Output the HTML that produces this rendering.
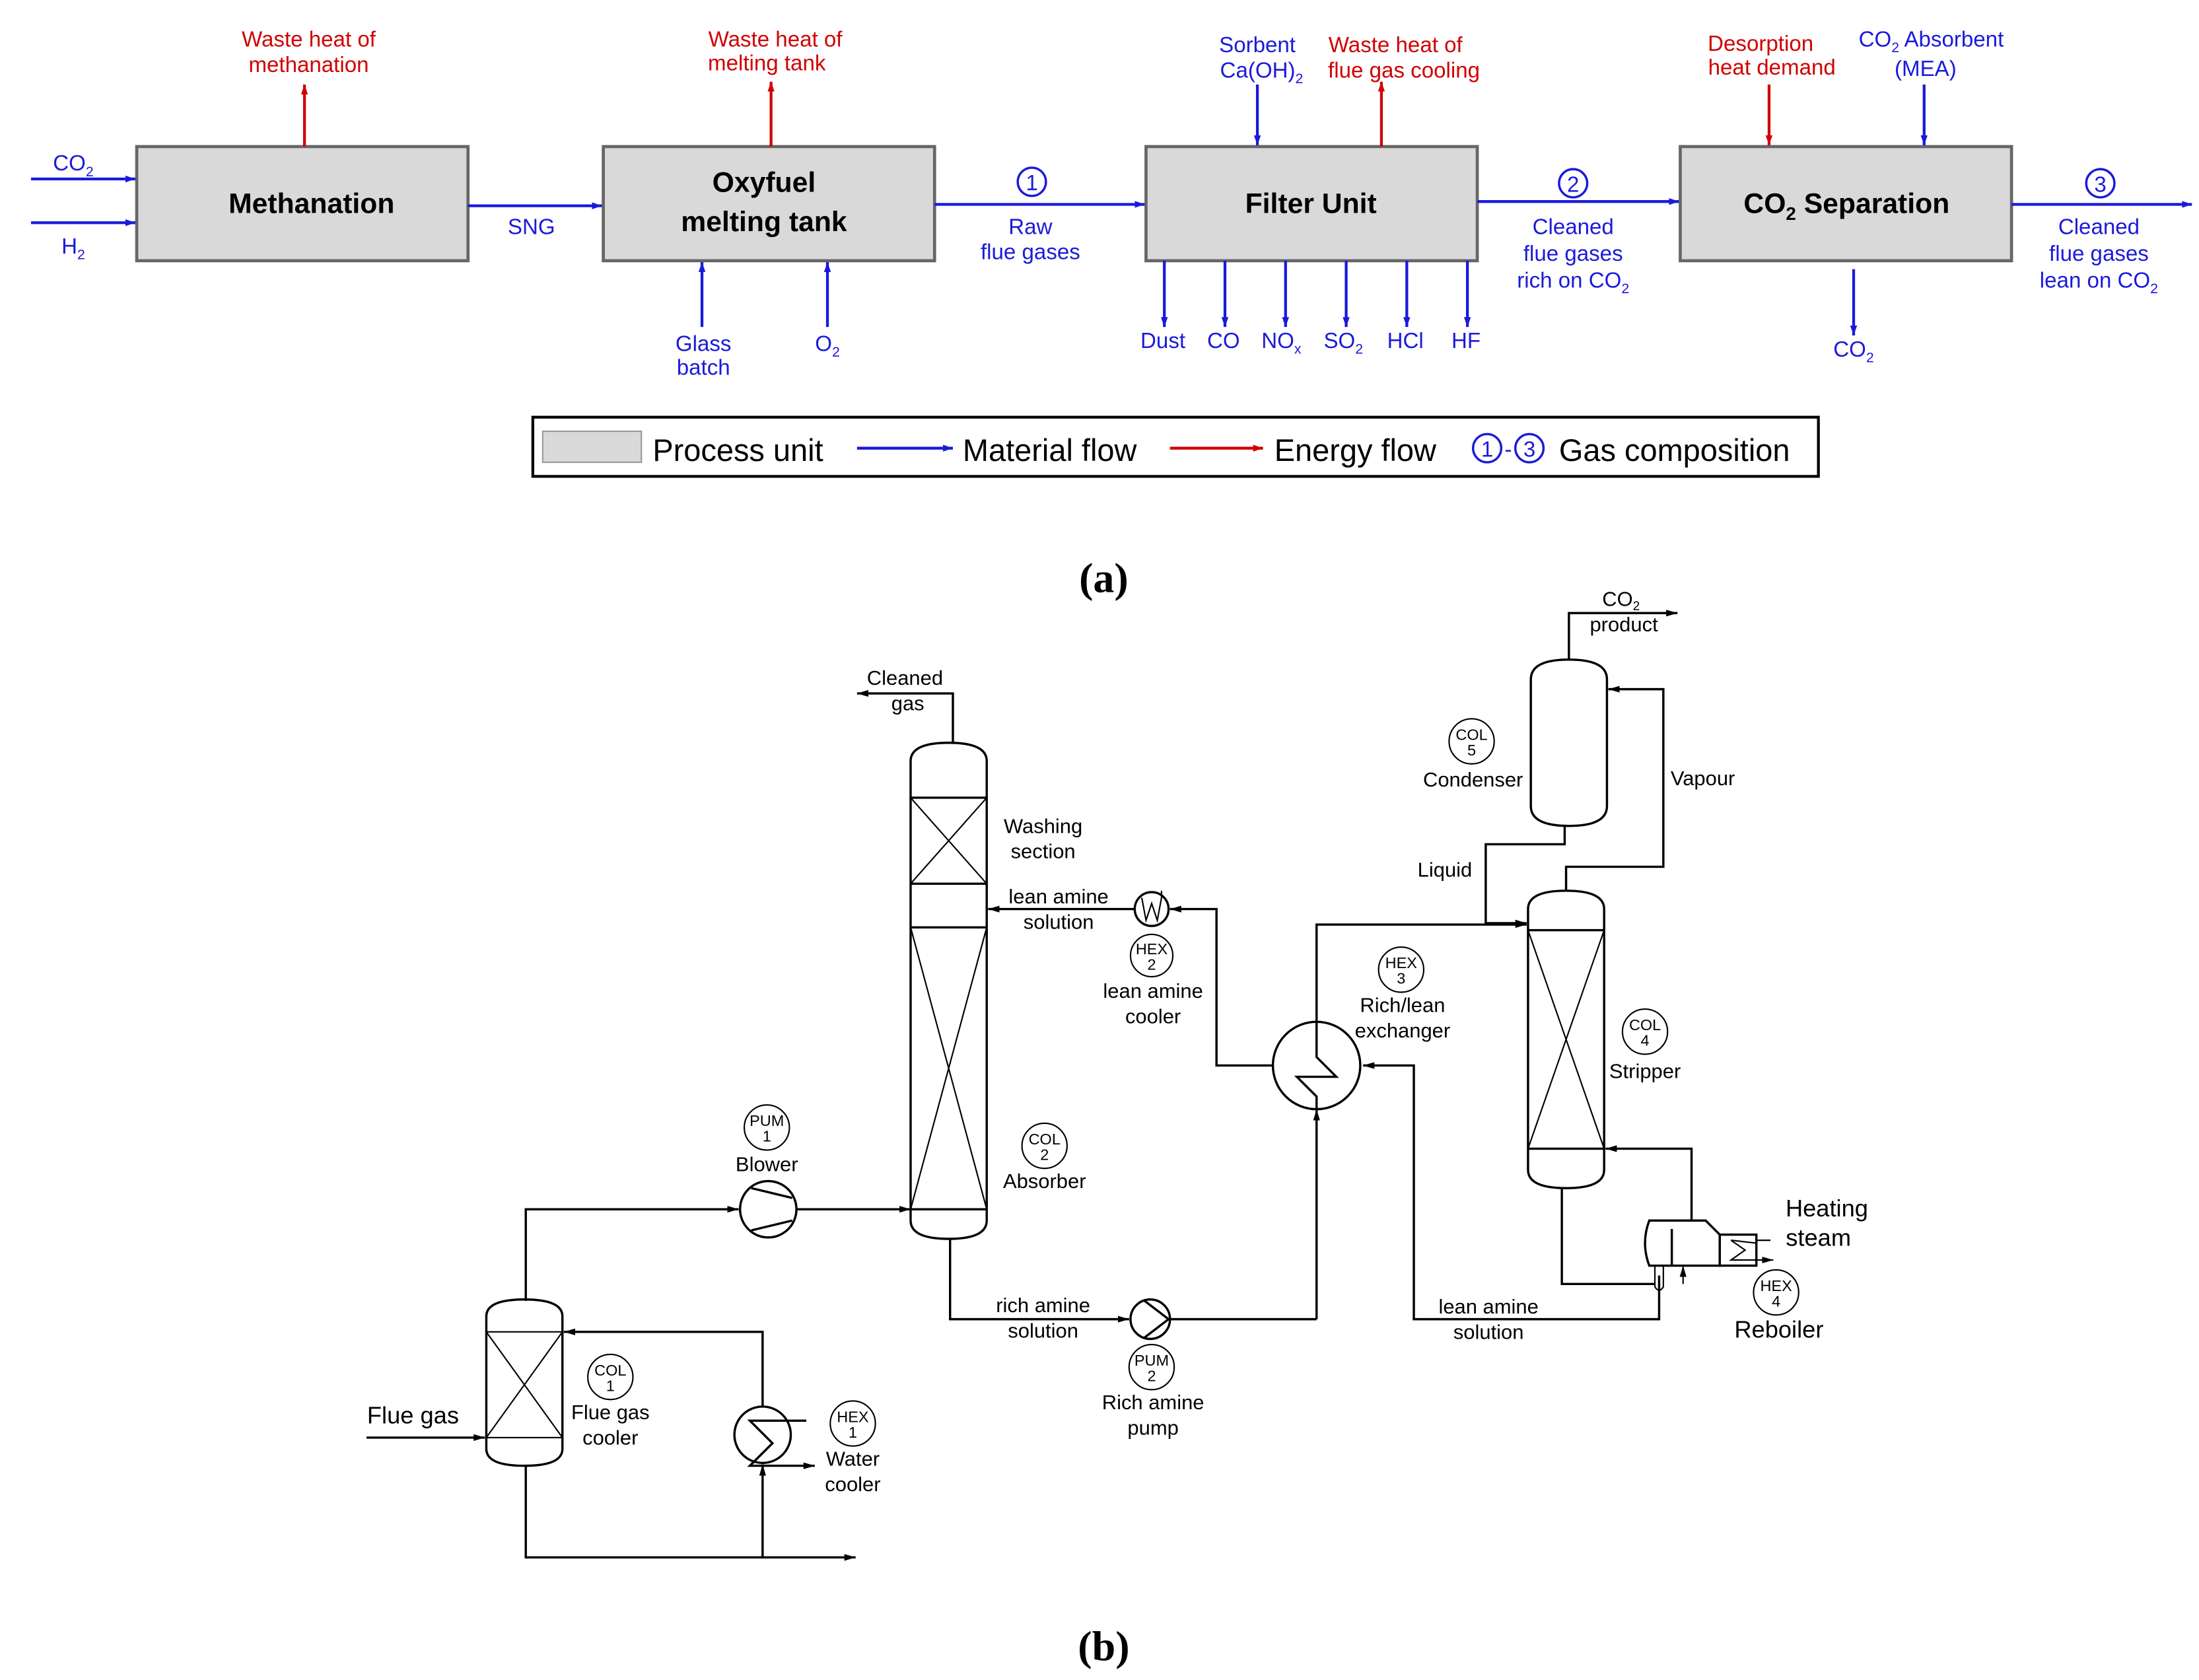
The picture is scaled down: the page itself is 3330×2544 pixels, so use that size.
<!DOCTYPE html>
<html><head><meta charset="utf-8"><style>
html,body{margin:0;padding:0;background:#fff}
svg{display:block}
text{font-family:"Liberation Sans",sans-serif}
.b{fill:#1a1adb;font-size:15.5px;text-anchor:middle}
.r{fill:#d00000;font-size:15.5px;text-anchor:middle}
.k{fill:#000;font-size:14.5px;text-anchor:middle}
.t{fill:#000;font-size:11px;text-anchor:middle}
.box{fill:#d9d9d9;stroke:#666;stroke-width:2.2}
.bl{stroke:#1a1adb;stroke-width:2;fill:none}
.rl{stroke:#d00000;stroke-width:2;fill:none}
.ln{stroke:#000;stroke-width:1.6;fill:none}
.th{stroke:#000;stroke-width:1;fill:none}
</style></head><body>
<svg width="3330" height="2544" viewBox="0 0 1560 1192" preserveAspectRatio="none" xmlns="http://www.w3.org/2000/svg">
<defs>
<marker id="ab" viewBox="0 0 10 10" refX="10" refY="5" markerWidth="7" markerHeight="7" orient="auto-start-reverse" markerUnits="userSpaceOnUse"><path d="M0,1.5 L10,5 L0,8.5z" fill="#1a1adb"/></marker>
<marker id="ar" viewBox="0 0 10 10" refX="10" refY="5" markerWidth="7" markerHeight="7" orient="auto-start-reverse" markerUnits="userSpaceOnUse"><path d="M0,1.5 L10,5 L0,8.5z" fill="#d00000"/></marker>
<marker id="ak" viewBox="0 0 10 10" refX="10" refY="5" markerWidth="8" markerHeight="8" orient="auto-start-reverse" markerUnits="userSpaceOnUse"><path d="M0,2 L10,5 L0,8z" fill="#000"/></marker>
</defs>

<rect class="box" x="97" y="104" width="235" height="81"/>
<rect class="box" x="428" y="104" width="235" height="81"/>
<rect class="box" x="813" y="104" width="235" height="81"/>
<rect class="box" x="1192" y="104" width="235" height="81"/>
<text x="221" y="151" font-size="20" font-weight="bold" text-anchor="middle">Methanation</text>
<text x="542" y="136" font-size="20" font-weight="bold" text-anchor="middle">Oxyfuel</text>
<text x="542" y="164" font-size="20" font-weight="bold" text-anchor="middle">melting tank</text>
<text x="930" y="151" font-size="20" font-weight="bold" text-anchor="middle">Filter Unit</text>
<text x="1310" y="151" font-size="20" font-weight="bold" text-anchor="middle">CO<tspan font-size="13" dy="5">2</tspan><tspan dy="-5"> Separation</tspan></text>

<line class="bl" x1="22" y1="127" x2="96" y2="127" marker-end="url(#ab)"/>
<line class="bl" x1="22" y1="158" x2="96" y2="158" marker-end="url(#ab)"/>
<text class="b" x="52" y="121">CO<tspan font-size="10" dy="4">2</tspan></text>
<text class="b" x="52" y="180">H<tspan font-size="10" dy="4">2</tspan></text>
<line class="bl" x1="332" y1="146" x2="427" y2="146" marker-end="url(#ab)"/>
<text class="b" x="377" y="166">SNG</text>
<line class="bl" x1="663" y1="145" x2="812" y2="145" marker-end="url(#ab)"/>
<line class="bl" x1="1048" y1="143" x2="1191" y2="143" marker-end="url(#ab)"/>
<line class="bl" x1="1427" y1="145" x2="1555" y2="145" marker-end="url(#ab)"/>
<g fill="none" stroke="#1a1adb" stroke-width="1.6"><circle cx="732" cy="129" r="10"/><circle cx="1116" cy="130" r="10"/><circle cx="1490" cy="130" r="10"/></g>
<text class="b" x="732" y="135">1</text><text class="b" x="1116" y="136">2</text><text class="b" x="1490" y="136">3</text>
<text class="b" x="731" y="166">Raw</text><text class="b" x="731" y="184">flue gases</text>
<text class="b" x="1116" y="166">Cleaned</text><text class="b" x="1116" y="185">flue gases</text><text class="b" x="1116" y="204">rich on CO<tspan font-size="10" dy="4">2</tspan></text>
<text class="b" x="1489" y="166">Cleaned</text><text class="b" x="1489" y="185">flue gases</text><text class="b" x="1489" y="204">lean on CO<tspan font-size="10" dy="4">2</tspan></text>

<line class="rl" x1="216" y1="104" x2="216" y2="60" marker-end="url(#ar)"/>
<text class="r" x="219" y="33">Waste heat of</text><text class="r" x="219" y="51">methanation</text>
<line class="rl" x1="547" y1="104" x2="547" y2="58" marker-end="url(#ar)"/>
<text class="r" x="550" y="33">Waste heat of</text><text class="r" x="544" y="50">melting tank</text>
<line class="rl" x1="980" y1="104" x2="980" y2="58" marker-end="url(#ar)"/>
<text class="r" x="990" y="37">Waste heat of</text><text class="r" x="996" y="55">flue gas cooling</text>
<line class="bl" x1="892" y1="60" x2="892" y2="103" marker-end="url(#ab)"/>
<text class="b" x="892" y="37">Sorbent</text><text class="b" x="895" y="55">Ca(OH)<tspan font-size="10" dy="4">2</tspan></text>
<line class="rl" x1="1255" y1="60" x2="1255" y2="103" marker-end="url(#ar)"/>
<text class="r" x="1249" y="36">Desorption</text><text class="r" x="1257" y="53">heat demand</text>
<line class="bl" x1="1365" y1="60" x2="1365" y2="103" marker-end="url(#ab)"/>
<text class="b" x="1370" y="33">CO<tspan font-size="10" dy="4">2</tspan><tspan dy="-4"> Absorbent</tspan></text><text class="b" x="1366" y="54">(MEA)</text>

<line class="bl" x1="498" y1="232" x2="498" y2="186" marker-end="url(#ab)"/>
<line class="bl" x1="587" y1="232" x2="587" y2="186" marker-end="url(#ab)"/>
<text class="b" x="499" y="249">Glass</text><text class="b" x="499" y="266">batch</text>
<text class="b" x="587" y="249">O<tspan font-size="10" dy="4">2</tspan></text>
<g>
<line class="bl" x1="826" y1="185" x2="826" y2="232" marker-end="url(#ab)"/>
<line class="bl" x1="869" y1="185" x2="869" y2="232" marker-end="url(#ab)"/>
<line class="bl" x1="912" y1="185" x2="912" y2="232" marker-end="url(#ab)"/>
<line class="bl" x1="955" y1="185" x2="955" y2="232" marker-end="url(#ab)"/>
<line class="bl" x1="998" y1="185" x2="998" y2="232" marker-end="url(#ab)"/>
<line class="bl" x1="1041" y1="185" x2="1041" y2="232" marker-end="url(#ab)"/>
</g>
<text class="b" x="825" y="247">Dust</text><text class="b" x="868" y="247">CO</text>
<text class="b" x="909" y="247">NO<tspan font-size="10" dy="4">x</tspan></text>
<text class="b" x="953" y="247">SO<tspan font-size="10" dy="4">2</tspan></text>
<text class="b" x="997" y="247">HCl</text><text class="b" x="1040" y="247">HF</text>
<line class="bl" x1="1315" y1="191" x2="1315" y2="238" marker-end="url(#ab)"/>
<text class="b" x="1315" y="253">CO<tspan font-size="10" dy="4">2</tspan></text>

<rect x="378" y="296" width="912" height="42" fill="#fff" stroke="#000" stroke-width="2"/>
<rect x="385" y="306" width="70" height="22" fill="#d9d9d9" stroke="#999" stroke-width="1"/>
<text x="463" y="327" font-size="22">Process unit</text>
<line class="bl" x1="608" y1="318" x2="676" y2="318" marker-end="url(#ab)"/>
<text x="683" y="327" font-size="22">Material flow</text>
<line class="rl" x1="830" y1="318" x2="896" y2="318" marker-end="url(#ar)"/>
<text x="904" y="327" font-size="22">Energy flow</text>
<g fill="none" stroke="#1a1adb" stroke-width="1.6"><circle cx="1055" cy="318" r="10"/><circle cx="1085" cy="318" r="10"/></g>
<text class="b" x="1055" y="324">1</text><text class="b" x="1070" y="324">-</text><text class="b" x="1085" y="324">3</text>
<text x="1106" y="327" font-size="22">Gas composition</text>

<text x="783" y="420" text-anchor="middle" style="font-family:'Liberation Serif',serif;font-size:30px;font-weight:bold">(a)</text>
<text x="783" y="1178" text-anchor="middle" style="font-family:'Liberation Serif',serif;font-size:30px;font-weight:bold">(b)</text>

<path class="ln" d="M646,540 Q646,527 673,527 Q700,527 700,540 L700,866 Q700,879 673,879 Q646,879 646,866 Z"/>
<line class="ln" x1="646" y1="566" x2="700" y2="566"/><line class="ln" x1="646" y1="627" x2="700" y2="627"/>
<line class="ln" x1="646" y1="658" x2="700" y2="658"/><line class="ln" x1="646" y1="858" x2="700" y2="858"/>
<path class="th" d="M646,566 L700,627 M700,566 L646,627 M646,658 L700,858 M700,658 L646,858"/>
<text class="k" x="740" y="591">Washing</text><text class="k" x="740" y="609">section</text>
<path class="ln" d="M676,527 L676,492 L608,492" marker-end="url(#ak)"/>
<text class="k" x="642" y="486">Cleaned</text><text class="k" x="644" y="504">gas</text>
<line class="ln" x1="805" y1="645" x2="701" y2="645" marker-end="url(#ak)"/>
<text class="k" x="751" y="641">lean amine</text><text class="k" x="751" y="659">solution</text>
<circle class="ln" cx="817" cy="645" r="12"/>
<path class="th" d="M810,637 L813,653 L817,641 L821,653 L824,637 L824,632" />
<path class="ln" d="M903,756 L863,756 L863,645 L830,645" marker-end="url(#ak)"/>
<circle class="th" cx="817" cy="678" r="15"/><text class="t" x="817" y="677">HEX</text><text class="t" x="817" y="688">2</text>
<text class="k" x="818" y="708">lean amine</text><text class="k" x="818" y="726">cooler</text>
<circle class="ln" cx="934" cy="756" r="31"/>
<path class="ln" d="M934,725 L934,750 L948,764 L920,764 L934,778 L934,787"/>
<path class="ln" d="M934,725 L934,656 L1083,656" marker-end="url(#ak)"/>
<circle class="th" cx="994" cy="688" r="16"/><text class="t" x="994" y="687">HEX</text><text class="t" x="994" y="698">3</text>
<text class="k" x="995" y="718">Rich/lean</text><text class="k" x="995" y="736">exchanger</text>
<path class="ln" d="M934,936 L934,787" marker-end="url(#ak)"/>
<path class="ln" d="M830,936 L934,936"/>
<circle class="ln" cx="816" cy="936" r="14"/><path class="ln" d="M812,923 L829,936 L812,949"/>
<path class="ln" d="M674,879 L674,936 L801,936" marker-end="url(#ak)"/>
<text class="k" x="740" y="931">rich amine</text><text class="k" x="740" y="949">solution</text>
<circle class="th" cx="817" cy="970" r="16"/><text class="t" x="817" y="969">PUM</text><text class="t" x="817" y="980">2</text>
<text class="k" x="818" y="1000">Rich amine</text><text class="k" x="818" y="1018">pump</text>
<path class="ln" d="M1177,905 L1177,936 L1003,936 L1003,756 L967,756" marker-end="url(#ak)"/>
<text class="k" x="1056" y="932">lean amine</text><text class="k" x="1056" y="950">solution</text>
<path class="ln" d="M1084,645 Q1084,632 1111,632 Q1138,632 1138,645 L1138,830 Q1138,843 1111,843 Q1084,843 1084,830 Z"/>
<line class="ln" x1="1084" y1="660" x2="1138" y2="660"/><line class="ln" x1="1084" y1="815" x2="1138" y2="815"/>
<path class="th" d="M1084,660 L1138,815 M1138,660 L1084,815"/>
<circle class="th" cx="1167" cy="732" r="16"/><text class="t" x="1167" y="731">COL</text><text class="t" x="1167" y="742">4</text>
<text class="k" x="1167" y="765">Stripper</text>
<path class="ln" d="M1086,482 Q1086,468 1113,468 Q1140,468 1140,482 L1140,572 Q1140,586 1113,586 Q1086,586 1086,572 Z"/>
<path class="ln" d="M1113,468 L1113,435 L1190,435" marker-end="url(#ak)"/>
<text class="k" x="1150" y="430">CO<tspan font-size="9" dy="3">2</tspan></text><text class="k" x="1152" y="448">product</text>
<path class="ln" d="M1111,632 L1111,615 L1180,615 L1180,489 L1141,489" marker-end="url(#ak)"/>
<text class="k" x="1208" y="557">Vapour</text>
<path class="ln" d="M1110,586 L1110,599 L1054,599 L1054,655 L1083,655" marker-end="url(#ak)"/>
<text class="k" x="1025" y="622">Liquid</text>
<circle class="th" cx="1044" cy="526" r="16"/><text class="t" x="1044" y="525">COL</text><text class="t" x="1044" y="536">5</text>
<text class="k" x="1045" y="558">Condenser</text>
<path class="ln" d="M1170,866 L1210,866 L1220,876 L1220,898 L1170,898 Q1164,882 1170,866 Z"/>
<rect class="ln" x="1220" y="876" width="26" height="22"/>
<line class="ln" x1="1186" y1="872" x2="1186" y2="898"/>
<path class="th" d="M1246,882 L1228,880 L1238,887 L1228,894 L1246,894"/>
<line class="th" x1="1246" y1="880" x2="1256" y2="880"/>
<line class="th" x1="1246" y1="894" x2="1258" y2="894" marker-end="url(#ak)"/>
<path class="ln" d="M1200,866 L1200,815 L1139,815" marker-end="url(#ak)"/>
<path class="ln" d="M1108,843 L1108,911 L1174,911"/>
<path class="th" d="M1174,898 L1174,913 Q1177,918 1180,913 L1180,898"/>
<line class="th" x1="1194" y1="911" x2="1194" y2="898" marker-end="url(#ak)"/>
<text x="1296" y="863" font-size="17" text-anchor="middle">Heating</text><text x="1290" y="884" font-size="17" text-anchor="middle">steam</text>
<circle class="th" cx="1260" cy="917" r="16"/><text class="t" x="1260" y="916">HEX</text><text class="t" x="1260" y="927">4</text>
<text x="1262" y="949" font-size="17" text-anchor="middle">Reboiler</text>
<circle class="ln" cx="545" cy="858" r="20"/>
<path class="ln" d="M533,843 L562,850 M533,873 L562,866"/>
<path class="ln" d="M373,923 L373,858 L524,858" marker-end="url(#ak)"/>
<line class="ln" x1="565" y1="858" x2="646" y2="858" marker-end="url(#ak)"/>
<circle class="th" cx="544" cy="800" r="16"/><text class="t" x="544" y="799">PUM</text><text class="t" x="544" y="810">1</text>
<text class="k" x="544" y="831">Blower</text>
<circle class="th" cx="741" cy="813" r="16"/><text class="t" x="741" y="812">COL</text><text class="t" x="741" y="823">2</text>
<text class="k" x="741" y="843">Absorber</text>
<path class="ln" d="M345,934 Q345,922 372,922 Q399,922 399,934 L399,1028 Q399,1040 372,1040 Q345,1040 345,1028 Z"/>
<line class="th" x1="345" y1="945" x2="399" y2="945"/><line class="th" x1="345" y1="1020" x2="399" y2="1020"/>
<path class="th" d="M345,945 L399,1020 M399,945 L345,1020"/>
<line class="ln" x1="260" y1="1020" x2="344" y2="1020" marker-end="url(#ak)"/>
<text x="293" y="1010" font-size="17" text-anchor="middle">Flue gas</text>
<circle class="th" cx="433" cy="977" r="16"/><text class="t" x="433" y="976">COL</text><text class="t" x="433" y="987">1</text>
<text class="k" x="433" y="1007">Flue gas</text><text class="k" x="433" y="1025">cooler</text>
<path class="ln" d="M373,1040 L373,1105 L607,1105" marker-end="url(#ak)"/>
<circle class="ln" cx="541" cy="1018" r="20"/>
<path class="ln" d="M541,998 L541,945 L400,945" marker-end="url(#ak)"/>
<path class="ln" d="M541,1105 L541,1039" marker-end="url(#ak)"/>
<path class="ln" d="M572,1008 L532,1008 L548,1024 L532,1040 L578,1040" marker-end="url(#ak)"/>
<circle class="th" cx="605" cy="1010" r="16"/><text class="t" x="605" y="1009">HEX</text><text class="t" x="605" y="1020">1</text>
<text class="k" x="605" y="1040">Water</text><text class="k" x="605" y="1058">cooler</text>
</svg>
</body></html>
